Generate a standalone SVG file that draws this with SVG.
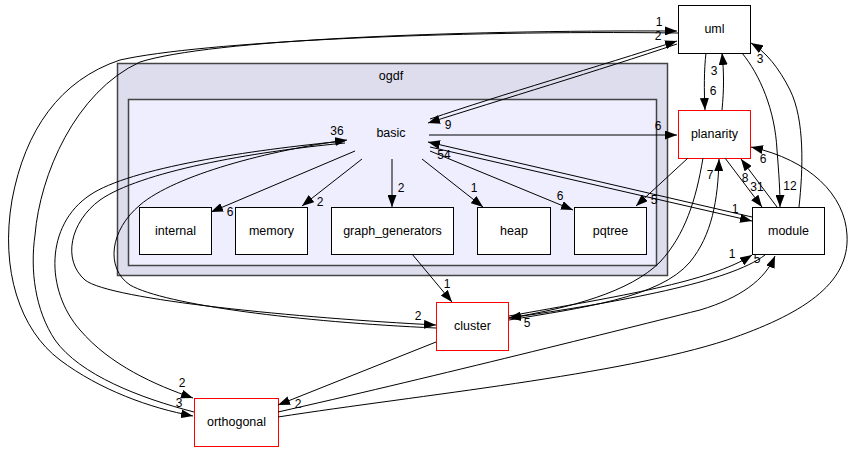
<svg xmlns="http://www.w3.org/2000/svg" width="854" height="452" viewBox="0 0 854 452">
  <style>
    .lbl { font-family: "Liberation Sans", Arial, sans-serif; font-size: 12.5px; fill: #000; text-anchor: middle; }
    .num { font-family: "Liberation Sans", Arial, sans-serif; font-size: 12px; fill: #000; text-anchor: middle; }
    .box { fill: #fff; stroke: #000; stroke-width: 1; }
    .red { fill: #fff; stroke: #ff0000; stroke-width: 1; }
    .edge { fill: none; stroke: #000; stroke-width: 1; marker-end: url(#ah); }
  </style>
  <defs>
    <marker id="ah" viewBox="0 0 12 9" refX="12" refY="4.5" markerWidth="12" markerHeight="9" markerUnits="userSpaceOnUse" orient="auto">
      <path d="M0,0 L12,4.5 L0,9 z" fill="#000"/>
    </marker>
  </defs>
  <rect width="854" height="452" fill="#fff"/>

  <!-- directory clusters -->
  <g id="cluster-ogdf">
    <rect x="117.5" y="63.5" width="550" height="212" fill="#ddddee" stroke="#444" stroke-width="1.5"/>
    <text class="lbl" x="391" y="80">ogdf</text>
  </g>
  <g id="cluster-basic">
    <rect x="128.5" y="99.5" width="528" height="166" fill="#eeeeff" stroke="#444" stroke-width="1.5"/>
    <text class="lbl" x="391" y="137">basic</text>
  </g>

  <!-- nodes -->
  <g id="node-internal"><rect class="box" x="139.5" y="207.5" width="72" height="47"/><text class="lbl" x="175.5" y="235">internal</text></g>
  <g id="node-memory"><rect class="box" x="235.5" y="207.5" width="72" height="47"/><text class="lbl" x="271.5" y="235">memory</text></g>
  <g id="node-graph_generators"><rect class="box" x="331.5" y="207.5" width="122" height="47"/><text class="lbl" x="392.5" y="235">graph_generators</text></g>
  <g id="node-heap"><rect class="box" x="477.5" y="207.5" width="73" height="47"/><text class="lbl" x="514" y="235">heap</text></g>
  <g id="node-pqtree"><rect class="box" x="574.5" y="207.5" width="72" height="47"/><text class="lbl" x="610.5" y="235">pqtree</text></g>
  <g id="node-uml"><rect class="box" x="678.5" y="5.5" width="72" height="48"/><text class="lbl" x="714.5" y="33">uml</text></g>
  <g id="node-planarity"><rect class="red" x="678.5" y="110.5" width="72" height="48"/><text class="lbl" x="714.5" y="138">planarity</text></g>
  <g id="node-module"><rect class="box" x="752.5" y="207.5" width="72" height="47"/><text class="lbl" x="788.5" y="235">module</text></g>
  <g id="node-cluster"><rect class="red" x="436.5" y="302.5" width="72" height="48"/><text class="lbl" x="472.5" y="330">cluster</text></g>
  <g id="node-orthogonal"><rect class="red" x="194.5" y="398.5" width="84" height="48"/><text class="lbl" x="236.5" y="426">orthogonal</text></g>

  <!-- dependency connectors -->
  <g id="edges">
    <!-- basic to its subdirectories -->
    <path class="edge" d="M355,151 L211,212"/>
    <text class="num" x="230" y="216">6</text>
    <path class="edge" d="M362,159 L302,206"/>
    <text class="num" x="320" y="206">2</text>
    <path class="edge" d="M392,159 L392,207"/>
    <text class="num" x="401" y="192">2</text>
    <path class="edge" d="M422,159 L483,207"/>
    <text class="num" x="474" y="192">1</text>
    <path class="edge" d="M430,151 L573,210"/>
    <text class="num" x="560" y="200">6</text>

    <!-- basic and uml -->
    <path class="edge" d="M677,44 C600,70 500,100 428,123"/>
    <text class="num" x="448" y="129">9</text>
    <path class="edge" d="M430,119 C500,95 600,66 677,41"/>
    <text class="num" x="658" y="40">2</text>

    <!-- basic to planarity -->
    <path class="edge" d="M429,135 L677,135"/>
    <text class="num" x="658" y="130">6</text>

    <!-- basic and module -->
    <path class="edge" d="M430,147 L752,221"/>
    <text class="num" x="735" y="213">1</text>
    <path class="edge" d="M752,217 L428,142"/>
    <text class="num" x="444" y="159">54</text>

    <!-- uml and planarity -->
    <path class="edge" d="M706,53 C704,70 704,90 705,110"/>
    <text class="num" x="713" y="95">6</text>
    <path class="edge" d="M722,110 C724,90 724,72 722,53"/>
    <text class="num" x="714" y="75">3</text>

    <!-- uml and module -->
    <path class="edge" d="M742,53 C760,75 775,110 777,150 C779,175 780,190 780,207"/>
    <text class="num" x="790" y="190">12</text>
    <path class="edge" d="M799,207 C803,170 805,120 790,90 C779,68 766,52 751,43"/>
    <text class="num" x="760" y="63">3</text>

    <!-- planarity and module -->
    <path class="edge" d="M725,158 L762,207"/>
    <text class="num" x="757" y="191">31</text>
    <path class="edge" d="M777,207 L741,159"/>
    <text class="num" x="745" y="182">8</text>

    <!-- planarity to pqtree -->
    <path class="edge" d="M688,158 L636,206"/>
    <text class="num" x="654" y="204">5</text>

    <!-- graph_generators to cluster -->
    <path class="edge" d="M412,254 L452,302"/>
    <text class="num" x="447" y="288">1</text>

    <!-- basic and cluster, routed round the left -->
    <path class="edge" d="M345,143 C250,152 140,172 100,200 C70,222 62,260 85,280 C110,300 300,318 436,325"/>
    <text class="num" x="418" y="320">2</text>
    <path class="edge" d="M436,328 C300,322 165,305 130,285 C105,268 110,230 140,205 C175,175 270,150 347,140"/>
    <text class="num" x="337" y="135">36</text>

    <!-- basic to orthogonal -->
    <path class="edge" d="M345,141 C250,150 130,168 90,195 C45,225 45,290 80,330 C110,365 155,385 193,398"/>
    <text class="num" x="182" y="387">2</text>

    <!-- uml and orthogonal -->
    <path class="edge" d="M678,33 C450,30 200,42 120,60 C60,80 25,130 12,200 C0,270 20,330 60,360 C100,390 150,408 193,416"/>
    <text class="num" x="179" y="407">3</text>
    <path class="edge" d="M194,412 C140,398 80,375 55,340 C35,310 30,270 35,235 C40,175 75,92 140,62 C210,40 450,30 677,31"/>
    <text class="num" x="659" y="26">1</text>

    <!-- cluster and orthogonal -->
    <path class="edge" d="M436,342 L278,405"/>
    <text class="num" x="298" y="408">2</text>

    <!-- planarity and cluster -->
    <path class="edge" d="M703,158 C696,200 685,235 660,262 C630,292 570,308 509,318"/>
    <path class="edge" d="M509,320 C580,308 660,298 690,262 C712,235 718,200 719,159"/>
    <text class="num" x="710" y="179">7</text>

    <!-- cluster and module -->
    <path class="edge" d="M509,316 C620,296 710,282 752,255"/>
    <text class="num" x="732" y="258">1</text>
    <path class="edge" d="M765,255 C730,282 620,302 509,318"/>
    <text class="num" x="527" y="327">5</text>

    <!-- orthogonal to module and planarity -->
    <path class="edge" d="M278,412 C420,380 600,335 700,310 C740,298 765,280 775,256"/>
    <text class="num" x="757" y="263">5</text>
    <path class="edge" d="M278,417 C420,395 620,375 727,340 C800,315 850,285 847,235 C845,195 810,160 751,147"/>
    <text class="num" x="763" y="163">6</text>
  </g>
</svg>
